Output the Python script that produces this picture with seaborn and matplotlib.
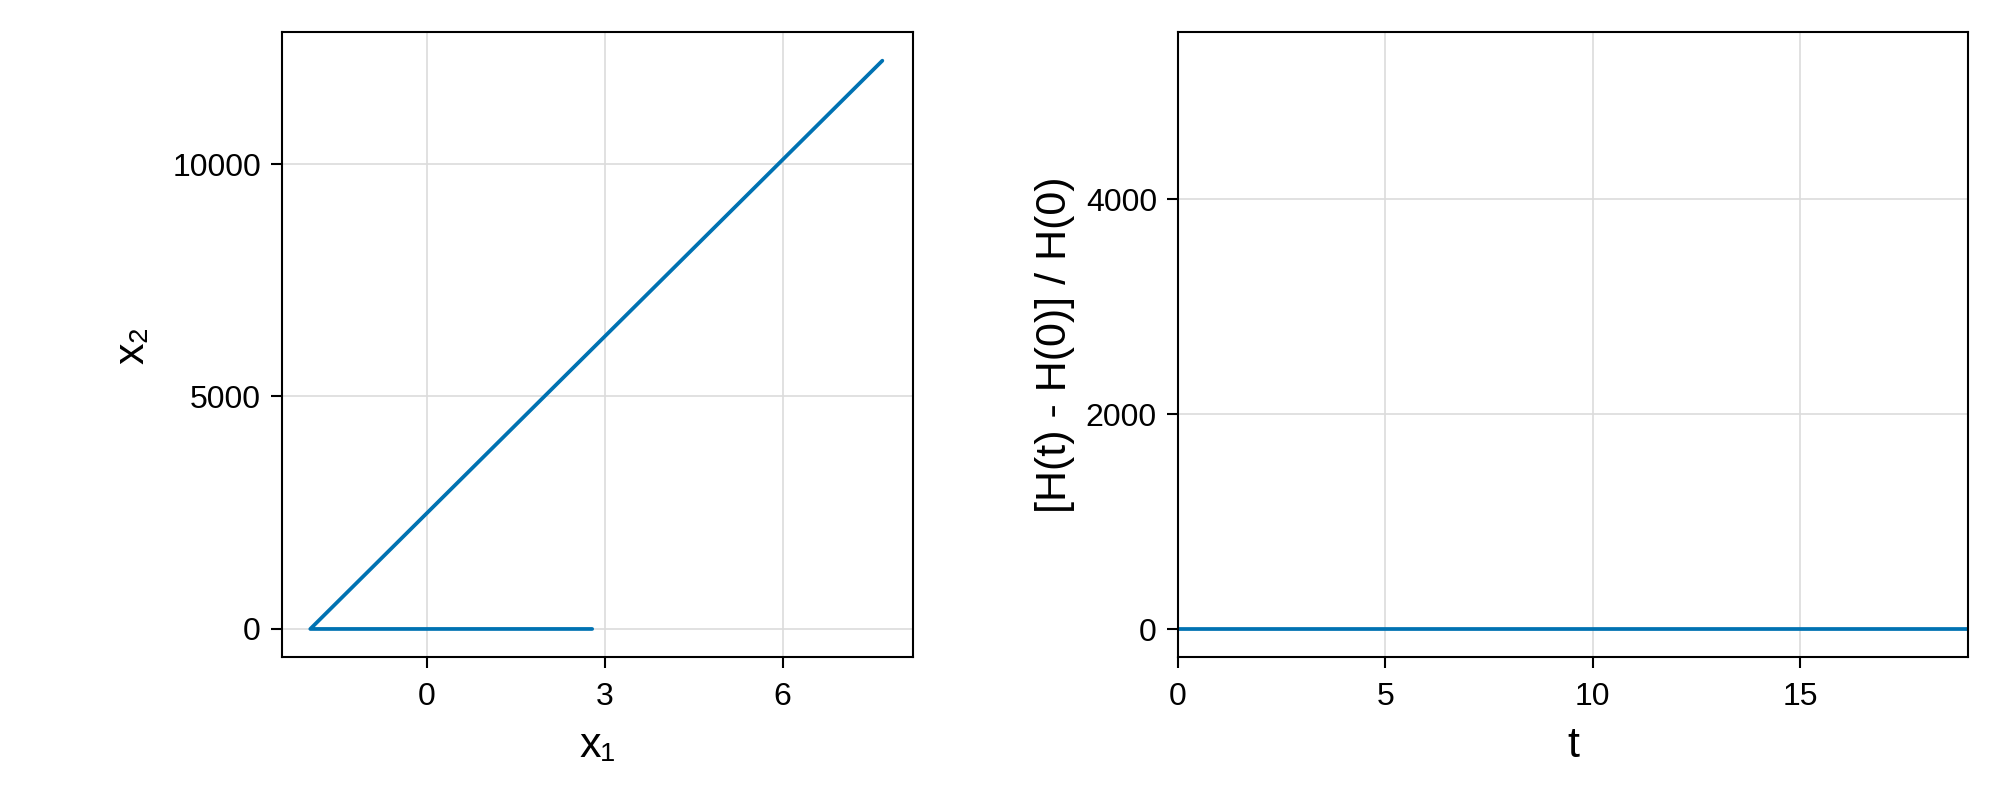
import matplotlib
matplotlib.use("Agg")
import matplotlib.pyplot as plt
import seaborn as sns
import pandas as pd

# ---- data ----
x1_vals = [2.79, 1.5, 0.0, -1.96, 7.68]
x2_vals = [0.0, 0.0, 0.0, 0.0, 12222.0]

t_vals = [0.0, 2.5, 5.0, 7.5, 10.0, 12.5, 15.0, 17.5, 19.05]
dH_vals = [0.0, 0.0, 0.0, 0.0, 0.0, 0.0, 0.0, 0.0, 0.0]

x_ticks_left = [0, 3, 6]
y_ticks_left = [0, 5000, 10000]
x_ticks_right = [0, 5, 10, 15]
y_ticks_right = [0, 2000, 4000]

sns.set_theme(style="ticks")
plt.rcParams['font.family'] = ['Liberation Sans', 'DejaVu Sans']
plt.rcParams['text.color'] = 'black'
plt.rcParams['axes.labelcolor'] = 'black'

LINE = "#0072B2"
GRID = "#dcdcdc"

fig = plt.figure(figsize=(20, 8), dpi=100)
ax1 = fig.add_axes([0.1409, 0.1784, 0.3157, 0.7816])
ax2 = fig.add_axes([0.5889, 0.1784, 0.3952, 0.7816])

df1 = pd.DataFrame({"x1": x1_vals, "x2": x2_vals})
df2 = pd.DataFrame({"t": t_vals, "dH": dH_vals})

sns.lineplot(data=df1, x="x1", y="x2", sort=False, estimator=None,
             color=LINE, linewidth=2.7, ax=ax1)
sns.lineplot(data=df2, x="t", y="dH", sort=False, estimator=None,
             color=LINE, linewidth=2.7, ax=ax2)

ax1.set_xlim(-2.44, 8.2)
ax1.set_ylim(-609, 12839)
ax2.set_xlim(0, 19.05)
ax2.set_ylim(-260, 5556)

ax1.set_xticks(x_ticks_left)
ax1.set_yticks(y_ticks_left)
ax2.set_xticks(x_ticks_right)
ax2.set_yticks(y_ticks_right)

for ax in (ax1, ax2):
    ax.grid(True, color=GRID, linewidth=1.2, alpha=1.0)
    ax.set_axisbelow(True)
    for s in ax.spines.values():
        s.set_color("black")
        s.set_linewidth(1.5)
    ax.tick_params(axis="both", which="major", labelsize=23, length=8,
                   width=1.5, color="black", labelcolor="black")
    ax.tick_params(axis="x", pad=10)
    ax.tick_params(axis="y", pad=7)

ax1.set_xlabel("x₁", fontsize=31, labelpad=10, color="black")
ax1.set_ylabel("x₂", fontsize=31, labelpad=14, color="black")
ax2.set_xlabel("t", fontsize=31, labelpad=10, color="black")
ax2.set_ylabel("[H(t) - H(0)] / H(0)", fontsize=31, labelpad=8, color="black")

fig.savefig("out.png", dpi=100)
